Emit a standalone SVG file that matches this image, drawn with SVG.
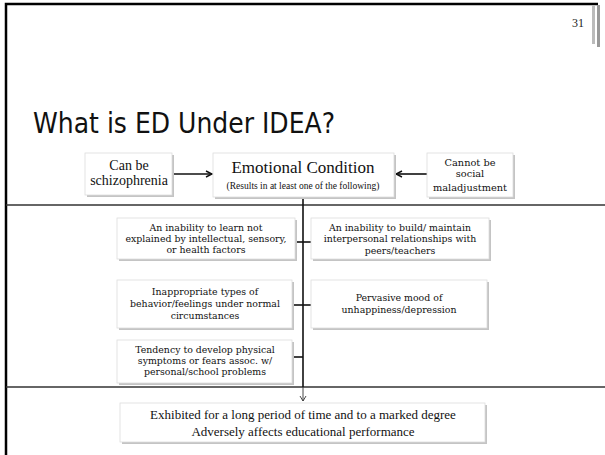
<svg xmlns="http://www.w3.org/2000/svg" width="605" height="455" viewBox="0 0 605 455">
<defs>
<style>
.frame{stroke:#000;stroke-width:2.5;fill:none}
.hl{stroke:#333;stroke-width:1.6;fill:none}
.box{fill:#fff;stroke:#ddd;stroke-width:0.8}
.shadow{fill:#c4c4c4}
.c{stroke:#111;stroke-width:1.6;fill:none}
.t{font-family:"Liberation Serif",serif;fill:#111;text-anchor:middle}
.s{font-family:"DejaVu Serif",serif;fill:#111;text-anchor:middle;font-size:9.4px}
</style>
<marker id="ah" markerWidth="8" markerHeight="8" refX="7" refY="4" orient="auto" markerUnits="userSpaceOnUse">
<path d="M1,1 L7,4 L1,7" fill="none" stroke="#111" stroke-width="1.4"/>
</marker>
<marker id="ah2" markerWidth="8" markerHeight="8" refX="6" refY="4" orient="auto" markerUnits="userSpaceOnUse">
<path d="M1,1 L6,4 L1,7" fill="none" stroke="#333" stroke-width="0.9"/>
</marker>
</defs>
<rect width="605" height="455" fill="#fff"/>
<g id="frame">
<path class="frame" d="M6,455 V4 H598"/>
<rect x="592" y="5" width="3" height="39" fill="#bbb"/>
<rect x="597" y="5" width="3" height="42" fill="#999"/>
<line class="hl" x1="6" y1="205" x2="605" y2="205"/>
<line class="hl" x1="6" y1="387" x2="605" y2="387"/>
<text x="578" y="27" font-family="Liberation Serif,serif" font-size="12" fill="#222" text-anchor="middle">31</text>
<text x="33" y="133" font-family="DejaVu Sans,sans-serif" font-size="29" fill="#111" textLength="302" lengthAdjust="spacingAndGlyphs">What is ED Under IDEA?</text>
</g>
<g id="connectors">
<line class="c" x1="173" y1="174" x2="212" y2="174" marker-end="url(#ah)"/>
<line class="c" x1="427" y1="174" x2="396" y2="174" marker-end="url(#ah)"/>
<line class="c" x1="303" y1="198" x2="303" y2="387"/>
<line x1="303" y1="387" x2="303" y2="401" stroke="#333" stroke-width="0.9" marker-end="url(#ah2)"/>
<line class="c" x1="296" y1="242" x2="311" y2="242"/>
<line class="c" x1="293" y1="305" x2="311" y2="305"/>
<line class="c" x1="293" y1="357" x2="303" y2="357"/>
</g>
<g id="n-schizo">
<rect class="shadow" x="87" y="155" width="87" height="42"/>
<rect class="box" x="85" y="153" width="87" height="42"/>
<text class="t" x="129" y="170" font-size="14">Can be</text>
<text class="t" x="129" y="185" font-size="14">schizophrenia</text>
</g>
<g id="n-emotional">
<rect class="shadow" x="215" y="155" width="181" height="44"/>
<rect class="box" x="213" y="153" width="181" height="44"/>
<text class="t" x="303" y="173" font-size="17">Emotional Condition</text>
<text class="t" x="303" y="189" font-size="9.5">(Results in at least one of the following)</text>
</g>
<g id="n-social">
<rect class="shadow" x="429" y="155" width="86" height="44"/>
<rect class="box" x="427" y="153" width="86" height="44"/>
<text class="s" x="470" y="166" style="font-size:9.8px">Cannot be</text>
<text class="s" x="470" y="177" style="font-size:9.8px">social</text>
<text class="s" x="470" y="191" style="font-size:9.8px">maladjustment</text>
</g>
<g id="n-learn">
<rect class="shadow" x="119" y="220" width="178" height="41"/>
<rect class="box" x="117" y="218" width="178" height="41"/>
<text class="s" x="206" y="231">An inability to learn not</text>
<text class="s" x="206" y="242">explained by intellectual, sensory,</text>
<text class="s" x="206" y="253">or health factors</text>
</g>
<g id="n-build">
<rect class="shadow" x="313" y="220" width="178" height="41"/>
<rect class="box" x="311" y="218" width="178" height="41"/>
<text class="s" x="400" y="231">An inability to build/ maintain</text>
<text class="s" x="400" y="242">interpersonal relationships with</text>
<text class="s" x="400" y="254">peers/teachers</text>
</g>
<g id="n-inappropriate">
<rect class="shadow" x="119" y="282" width="175" height="48"/>
<rect class="box" x="117" y="280" width="175" height="48"/>
<text class="s" x="205" y="295">Inappropriate types of</text>
<text class="s" x="205" y="307">behavior/feelings under normal</text>
<text class="s" x="205" y="319">circumstances</text>
</g>
<g id="n-pervasive">
<rect class="shadow" x="313" y="282" width="176" height="48"/>
<rect class="box" x="311" y="280" width="176" height="48"/>
<text class="s" x="399" y="301">Pervasive mood of</text>
<text class="s" x="399" y="313">unhappiness/depression</text>
</g>
<g id="n-tendency">
<rect class="shadow" x="119" y="342" width="175" height="43"/>
<rect class="box" x="117" y="340" width="175" height="43"/>
<text class="s" x="205" y="353">Tendency to develop physical</text>
<text class="s" x="205" y="364">symptoms or fears assoc. w/</text>
<text class="s" x="205" y="375">personal/school problems</text>
</g>
<g id="n-exhibited">
<rect class="shadow" x="122" y="405" width="365" height="39"/>
<rect class="box" x="120" y="403" width="365" height="39"/>
<text class="t" x="303" y="419" font-size="13">Exhibited for a long period of time and to a marked degree</text>
<text class="t" x="303" y="436" font-size="13">Adversely affects educational performance</text>
</g>
</svg>
